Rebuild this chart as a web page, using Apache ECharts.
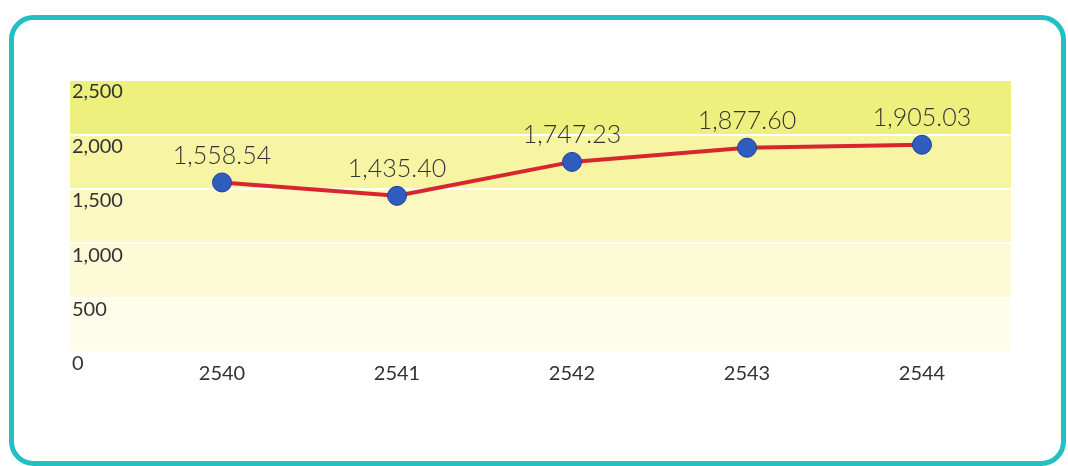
<!DOCTYPE html>
<html><head><meta charset="utf-8">
<script src="https://cdn.jsdelivr.net/npm/echarts@6/dist/echarts.min.js"></script>
<style>html,body{margin:0;padding:0;background:#fff}#c{width:1068px;height:466px}</style>
</head><body><div id="c"></div>
<script>
const years = ['2540','2541','2542','2543','2544'];
const values = [1558.54, 1435.40, 1747.23, 1877.60, 1905.03];
const yTicks = [0, 500, 1000, 1500, 2000, 2500];

const chart = echarts.init(document.getElementById('c'));
const fmt = v => v.toLocaleString('en-US', {minimumFractionDigits: 2, maximumFractionDigits: 2});
const tickFmt = v => v.toLocaleString('en-US');
const FONT = 'Lato, "Open Sans", sans-serif';
chart.setOption({
  animation: false,
  graphic: [{
    type: 'rect', left: 9, top: 15, z: -10,
    shape: {width: 1052, height: 446, r: 22},
    style: {fill: '#fff', stroke: '#22c0c2', lineWidth: 5}
  }],
  grid: [
    {left: 70, right: 57, top: 80, bottom: 114},
    {left: 134.5, right: 58.5, top: 80, bottom: 114}
  ],
  xAxis: [
    {gridIndex: 0, type: 'category', data: years, show: false},
    {gridIndex: 1, type: 'category', data: years, boundaryGap: true,
     axisLine: {show: false}, axisTick: {show: false},
     axisLabel: {margin: 12, fontSize: 20, color: '#333', fontFamily: FONT}}
  ],
  yAxis: [
    {gridIndex: 0, type: 'value', min: yTicks[0], max: yTicks[yTicks.length-1], interval: 500,
     axisLine: {show: false}, axisTick: {show: false},
     axisLabel: {inside: true, margin: 2, verticalAlign: 'top', padding: [2,0,0,0], fontSize: 20, color: '#333', fontFamily: FONT, formatter: tickFmt},
     splitLine: {show: true, lineStyle: {color: '#ffffff', width: 2}},
     splitArea: {show: true, areaStyle: {color: ['#fefdeb', '#fdfad8', '#fbf8c2', '#f7f5a4', '#edf07c']}}},
    {gridIndex: 1, type: 'value', min: 0, max: 2500, show: false, splitLine: {show: false}}
  ],
  series: [{
    type: 'line', xAxisIndex: 1, yAxisIndex: 1, data: values,
    lineStyle: {color: '#d8262e', width: 4},
    symbol: 'circle', symbolSize: 19,
    itemStyle: {color: '#2f5cbf', borderColor: '#1e3f99', borderWidth: 1},
    label: {show: true, position: 'top', distance: 4, fontSize: 25, color: '#333', fontFamily: FONT, fontWeight: 300, formatter: p => fmt(p.value)},
    z: 5
  }]
});
</script></body></html>
